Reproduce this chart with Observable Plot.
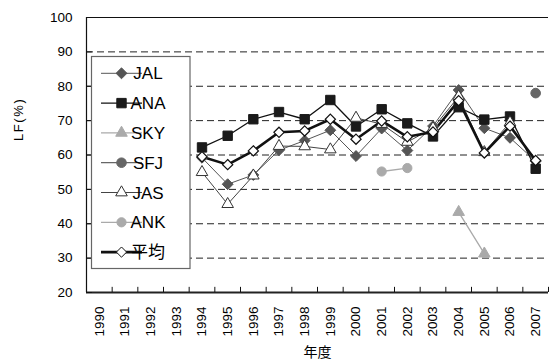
<!DOCTYPE html>
<html>
<head>
<meta charset="utf-8">
<script src="https://cdn.jsdelivr.net/npm/d3@7"></script>
<script src="https://cdn.jsdelivr.net/npm/@observablehq/plot@0.6"></script>
<style>
  html, body { margin: 0; padding: 0; background: #fff; }
  #chart { width: 550px; height: 363px; }
</style>
</head>
<body>
<div id="chart"></div>
<script>
// ---- data ----
const years = [1990, 1991, 1992, 1993, 1994, 1995, 1996, 1997, 1998, 1999, 2000, 2001, 2002, 2003, 2004, 2005, 2006, 2007];
const JAL = [null, null, null, null, 59.2, 51.5, 54.2, 61.4, 64.2, 67.2, 59.7, 67.7, 61.3, 68.4, 78.9, 67.8, 65.0, 58.2];
const ANA = [null, null, null, null, 62.2, 65.6, 70.4, 72.5, 70.4, 76.0, 68.3, 73.3, 69.2, 65.4, 73.9, 70.3, 71.2, 56.0];
const SKY = [null, null, null, null, null, null, null, null, null, null, null, null, null, null, 43.4, 31.3, null, null];
const SFJ = [null, null, null, null, null, null, null, null, null, null, null, null, null, null, null, null, null, 78.0];
const JAS = [null, null, null, null, 55.0, 45.7, 54.0, 62.6, 62.5, 61.6, 70.8, 69.0, 63.8, 67.8, 77.0, 60.8, 69.5, null];
const ANK = [null, null, null, null, null, null, null, null, null, null, null, 55.2, 56.2, null, null, null, null, null];
const AVG = [null, null, null, null, 59.5, 57.2, 61.2, 66.6, 67.0, 70.4, 64.6, 69.9, 65.3, 66.7, 75.8, 60.6, 68.4, 58.4];
const seriesNames = ["JAL", "ANA", "SKY", "SFJ", "JAS", "ANK", "平均"];
const seriesValues = [JAL, ANA, SKY, SFJ, JAS, ANK, AVG];
const yTicks = [20, 30, 40, 50, 60, 70, 80, 90, 100];
const gridValues = [30, 40, 50, 60, 70, 80, 90];
const yTitle = "LF(%)";
const xTitle = "年度";

// ---- styles ----
const styles = [
  {stroke: "#555", sw: 1,   symbol: "diamond2", fill: "#555", mstroke: "#555", r: 4.9},
  {stroke: "#111", sw: 1.3, symbol: "square",   fill: "#1a1a1a", mstroke: "#1a1a1a", r: 5.3},
  {stroke: "#aaa", sw: 1.3, symbol: "triangle", fill: "#aaa", mstroke: "#aaa", r: 4.3},
  {stroke: "#666", sw: 1.3, symbol: "circle",   fill: "#666", mstroke: "#666", r: 4.8},
  {stroke: "#444", sw: 1,   symbol: "triangle", fill: "#fff", mstroke: "#333", r: 4.3},
  {stroke: "#aaa", sw: 1.3, symbol: "circle",   fill: "#aaa", mstroke: "#aaa", r: 4.6},
  {stroke: "#111", sw: 2.6, symbol: "diamond2", fill: "#fff", mstroke: "#111", r: 4.6}
];

const FONT = "'Liberation Sans', Arial, 'Noto Sans CJK JP', sans-serif";
const x0 = years[0] - 0.5, x1 = years[years.length - 1] + 0.5;
const boundaries = years.map(y => y - 0.5).concat([x1]);

const marks = [];
// grid
marks.push(Plot.ruleY(gridValues, {x1: x0, x2: x1, stroke: "#222", strokeWidth: 1, strokeDasharray: "7,4"}));
marks.push(Plot.ruleY([100], {x1: x0, x2: x1, stroke: "#111", strokeWidth: 1.2}));
// series
seriesValues.forEach((vals, i) => {
  const rows = years.map((yr, j) => ({year: yr, value: vals[j]}));
  const s = styles[i];
  marks.push(Plot.line(rows, {x: "year", y: "value", stroke: s.stroke, strokeWidth: s.sw, curve: "linear"}));
});
seriesValues.forEach((vals, i) => {
  const rows = years.map((yr, j) => ({year: yr, value: vals[j]})).filter(d => d.value != null);
  const s = styles[i];
  marks.push(Plot.dot(rows, {x: "year", y: "value", symbol: () => s.symbol, r: s.r, fill: s.fill, stroke: s.mstroke, strokeWidth: s.symbol === "diamond2" && s.fill === "#fff" ? 1.2 : 1}));
});
// axes
marks.push(Plot.ruleX([x0], {y1: 20, y2: 100, stroke: "#111", strokeWidth: 1.2}));
marks.push(Plot.ruleY([20], {x1: x0, x2: x1, stroke: "#222", strokeWidth: 2}));
marks.push(Plot.ruleY(yTicks, {x1: x0, x2: x0 + 0.23, stroke: "#111", strokeWidth: 1}));
marks.push(Plot.ruleX(boundaries, {y1: 20, y2: 21.5, stroke: "#111", strokeWidth: 1}));
marks.push(Plot.text(yTicks, {x: x0, y: d => d, text: d => String(d), textAnchor: "end", dx: -14, fontSize: 13.5, fill: "#000"}));
marks.push(Plot.text(years, {x: d => d, y: 20, text: d => String(d), rotate: -90, textAnchor: "end", dy: 14, fontSize: 13.5, fill: "#000"}));
marks.push(Plot.text([xTitle], {frameAnchor: "bottom", text: d => d, dy: 64, fontSize: 14, fill: "#000"}));
marks.push(Plot.text([yTitle], {frameAnchor: "left", text: d => d, rotate: -90, dx: -68, dy: -14, fontSize: 13, fill: "#000", className: "ytitle"}));

const chart = Plot.plot({
  width: 550,
  height: 363,
  marginLeft: 86,
  marginRight: 2,
  marginTop: 17,
  marginBottom: 71,
  style: {fontFamily: FONT, background: "#fff", overflow: "visible"},
  x: {type: "linear", domain: [x0, x1], axis: null},
  y: {type: "linear", domain: [20, 100], axis: null},
  marks
});
document.getElementById("chart").appendChild(chart);

const svg = d3.select(chart);
svg.selectAll(".ytitle text").attr("letter-spacing", "1.6px");

// ---- legend (inside plot) ----
const lg = svg.append("g").attr("font-family", FONT);
lg.append("rect").attr("x", 91.5).attr("y", 56.5).attr("width", 98.5).attr("height", 212)
  .attr("fill", "#fff").attr("stroke", "#666").attr("stroke-width", 1.2);
const symMap = {diamond2: d3.symbolDiamond2, square: d3.symbolSquare, triangle: d3.symbolTriangle, circle: d3.symbolCircle};
seriesNames.forEach((name, i) => {
  const s = styles[i];
  const cy = 73.3 + i * 29.8;
  const g = lg.append("g");
  g.append("line").attr("x1", 101).attr("x2", 142).attr("y1", cy).attr("y2", cy)
    .attr("stroke", s.stroke).attr("stroke-width", s.sw);
  g.append("path").attr("transform", `translate(121.5,${cy})`)
    .attr("d", d3.symbol(symMap[s.symbol], s.r * s.r * Math.PI)())
    .attr("fill", s.fill).attr("stroke", s.mstroke).attr("stroke-width", 1);
  g.append("text").attr("x", 148).attr("y", cy).attr("dy", "0.36em")
    .attr("font-size", 17).attr("fill", "#000").text(name);
});
</script>
</body>
</html>
